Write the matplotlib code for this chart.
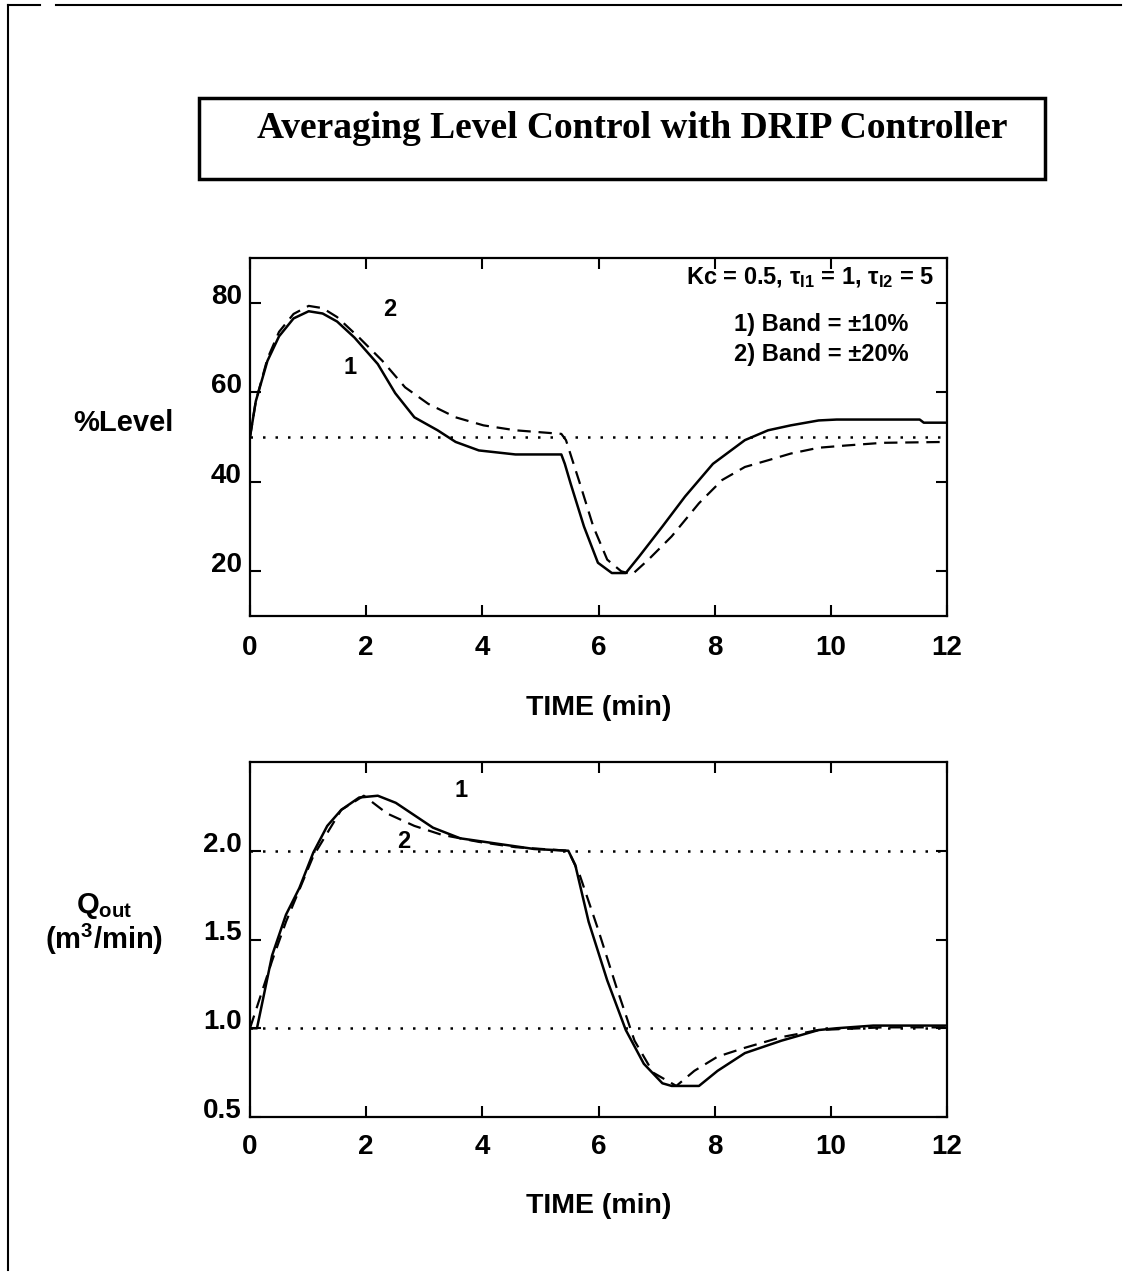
import matplotlib.pyplot as plt
import matplotlib.transforms as mtransforms
from matplotlib.patches import Rectangle
from matplotlib.lines import Line2D

plt.rcParams['font.family'] = ['Liberation Sans', 'DejaVu Sans']
plt.rcParams['font.weight'] = 'bold'
plt.rcParams['mathtext.fontset'] = 'custom'
plt.rcParams['mathtext.bf'] = 'Liberation Sans:bold'
plt.rcParams['mathtext.rm'] = 'Liberation Sans:bold'
plt.rcParams['mathtext.default'] = 'bf'

# level, band = +-10% (curve 1)
t_lev1 = [0, 0.1, 0.3, 0.5, 0.75, 1.01, 1.25, 1.5, 1.8, 2.2, 2.5, 2.83, 3.23, 3.54, 3.94, 4.57,
          5.36, 5.42, 5.52, 5.75, 5.99, 6.23, 6.47, 6.7, 7.1, 7.49, 7.97, 8.52, 8.92, 9.31,
          9.79, 10.1, 11.53, 11.6, 12]
lev1 = [50, 58, 67, 72.5, 76.5, 78.1, 77.6, 75.8, 72.2, 66.3, 59.8, 54.4, 51.5, 48.9, 47, 46.1,
        46.1, 44, 39.6, 30, 21.9, 19.6, 19.6, 23.3, 30, 36.7, 44, 49.3, 51.5, 52.6,
        53.7, 53.9, 53.9, 53.2, 53.2]

# level, band = +-20% (curve 2)
t_lev2 = [0, 0.1, 0.3, 0.5, 0.75, 1.01, 1.25, 1.5, 1.88, 2.28, 2.67, 3.07, 3.54, 4.02, 4.57,
          4.96, 5.36, 5.44, 5.68, 5.91, 6.15, 6.39, 6.58, 6.86, 7.26, 7.73, 8.13, 8.52, 8.92,
          9.31, 9.79, 10.26, 10.89, 12]
lev2 = [50, 58, 67.5, 73.5, 77.5, 79.3, 78.8, 76.8, 72.2, 67, 61.1, 57.4, 54.4, 52.6, 51.5,
        51.1, 50.7, 49.3, 39.6, 30, 22.6, 20, 19.3, 22.6, 27.8, 35.2, 40.4, 43.3, 44.8,
        46.3, 47.6, 48.1, 48.7, 48.9]

# outlet flow, curve 1
t_q1 = [0, 0.12, 0.38, 0.62, 0.85, 1.09, 1.33, 1.57, 1.88, 2.2, 2.51, 2.83, 3.15, 3.62, 4.25,
        4.89, 5.48, 5.6, 5.83, 6.15, 6.47, 6.78, 7.1, 7.26, 7.73, 8.05, 8.52, 9.15, 9.79,
        10.1, 10.73, 12]
q1 = [1.0, 1.0, 1.41, 1.64, 1.79, 1.99, 2.14, 2.23, 2.30, 2.31, 2.27, 2.2, 2.13, 2.07, 2.04,
      2.01, 2.0, 1.92, 1.6, 1.27, 0.99, 0.80, 0.69, 0.675, 0.675, 0.76, 0.86, 0.93, 0.99,
      1.0, 1.015, 1.015]

# outlet flow, curve 2
t_q2 = [0, 0.38, 0.62, 1.09, 1.57, 1.96, 2.36, 2.83, 3.3, 3.94, 4.57, 5.48, 5.68, 5.99, 6.31,
        6.62, 6.94, 7.34, 7.65, 8.05, 8.52, 9.15, 9.79, 10.89, 12]
q2 = [1.0, 1.38, 1.60, 1.97, 2.23, 2.31, 2.21, 2.14, 2.09, 2.05, 2.02, 2.0, 1.86, 1.56, 1.23,
      0.93, 0.75, 0.675, 0.76, 0.84, 0.89, 0.95, 0.99, 1.005, 1.005]

level_set = [50]
q_refs = [2.0, 1.0]
x_ticks = [0, 2, 4, 6, 8, 10, 12]
lev_ticks = [20, 40, 60, 80]
q_ticks = [0.5, 1.0, 1.5, 2.0]
q_labels = ['0.5', '1.0', '1.5', '2.0']

fig = plt.figure(figsize=(11.24, 12.78), dpi=100)

# page frame and title box
fig.add_artist(Line2D([0.007, 0.007], [0.006, 0.996], color='black', lw=1.5))
fig.add_artist(Line2D([0.007, 0.036], [0.996, 0.996], color='black', lw=1.5))
fig.add_artist(Line2D([0.05, 0.997], [0.996, 0.996], color='black', lw=1.5))
fig.add_artist(Rectangle((199 / 1124, 1 - 179 / 1278), 846 / 1124, 81 / 1278,
                         fill=False, edgecolor='black', lw=2.5))
fig.text(632 / 1124, 1 - 129 / 1278, 'Averaging Level Control with DRIP Controller',
         family='Liberation Serif', fontweight='bold', fontsize=27, ha='center', va='center')

ax1 = fig.add_axes([250 / 1124, 1 - 616 / 1278, 697 / 1124, 358 / 1278])
ax2 = fig.add_axes([250 / 1124, 1 - 1117 / 1278, 697 / 1124, 355 / 1278])

ax1.plot(t_lev1, lev1, color='black', lw=1.8)
ax1.plot(t_lev2, lev2, color='black', lw=1.6, linestyle=(0, (6, 3.5)))
for v in level_set:
    ax1.axhline(v, color='black', lw=1.8, linestyle=(0, (1, 4)))
ax1.set_xlim(0, 12)
ax1.set_ylim(10, 90)
ax1.set_yticks(lev_ticks)
ax1.text(2.4, 78.5, '2', fontsize=17, ha='center', va='center')
ax1.text(1.73, 65.5, '1', fontsize=17, ha='center', va='center')
ax1.text(11.78, 85.6, 'Kc = 0.5, τ$_{I1}$ = 1, τ$_{I2}$ = 5', fontsize=17, ha='right', va='center')
ax1.text(9.84, 75.1, '1) Band = ±10%', fontsize=17, ha='center', va='center')
ax1.text(9.84, 68.4, '2) Band = ±20%', fontsize=17, ha='center', va='center')

ax2.plot(t_q1, q1, color='black', lw=1.8)
ax2.plot(t_q2, q2, color='black', lw=1.6, linestyle=(0, (6, 3.5)))
for v in q_refs:
    ax2.axhline(v, color='black', lw=1.8, linestyle=(0, (1, 4)))
ax2.set_xlim(0, 12)
ax2.set_ylim(0.5, 2.5)
ax2.set_yticks(q_ticks)
ax2.set_yticklabels(q_labels)
ax2.text(3.63, 2.34, '1', fontsize=17, ha='center', va='center')
ax2.text(2.64, 2.05, '2', fontsize=17, ha='center', va='center')

# y tick labels sit a little above their ticks in the scan
shift = mtransforms.ScaledTranslation(0, 9 / 100, fig.dpi_scale_trans)
for ax, pad in ((ax1, 14), (ax2, 12)):
    ax.set_xticks(x_ticks)
    ax.tick_params(direction='in', length=8, width=1.5, top=True, right=True, labelsize=20)
    ax.tick_params(axis='x', pad=pad)
    ax.tick_params(axis='y', pad=6)
    for s in ax.spines.values():
        s.set_linewidth(1.6)
    ax.set_xlabel('TIME (min)', fontsize=20.5, fontweight='bold', labelpad=24)
    for lab in ax.get_yticklabels():
        lab.set_transform(lab.get_transform() + shift)

fig.text(123 / 1124, 1 - 423 / 1278, '%Level', fontsize=21, ha='center', va='center')
fig.text(104 / 1124, 1 - 906 / 1278, 'Q$_{out}$', fontsize=21, ha='center', va='center')
fig.text(104 / 1124, 1 - 939 / 1278, '(m$^3$/min)', fontsize=21, ha='center', va='center')

plt.savefig('out.png', dpi=100)
